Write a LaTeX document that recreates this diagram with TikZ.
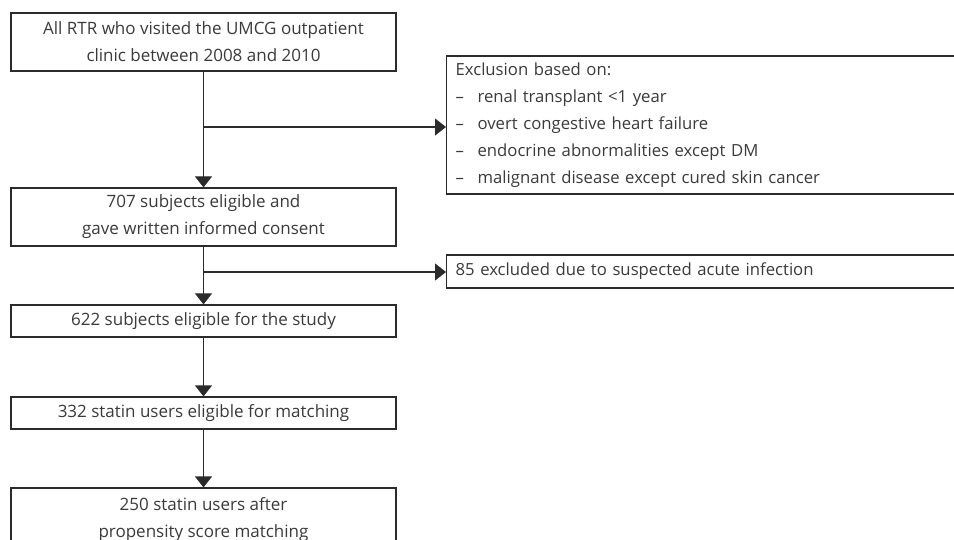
\documentclass[tikz,border=0pt]{standalone}
\usepackage{fontspec}
\setmainfont{Open Sans}
\usetikzlibrary{arrows.meta}
\definecolor{linec}{HTML}{2B2B2B}
\definecolor{textc}{HTML}{3A3A3A}
\begin{document}
\begin{tikzpicture}[x=1pt,y=1pt,
  box/.style={draw=linec, line width=1.2pt, minimum width=385pt, align=center, text=textc,
    font=\fontsize{17}{27}\selectfont, inner sep=0pt},
  sidebox/.style={draw=linec, line width=1.2pt, minimum width=530pt, align=left, text=textc,
    font=\fontsize{16.7}{27}\selectfont, inner xsep=9pt, inner ysep=0pt, text width=512pt, anchor=west},
  arr/.style={draw=linec, line width=1.2pt, -{Triangle[width=17pt,length=11pt]}},
  ln/.style={draw=linec, line width=1.2pt}]
\useasboundingbox (0,0) rectangle (954,-540);
\node[box, minimum height=58pt] (b1) at (203.5,-42) {All RTR who visited the UMCG outpatient\\clinic between 2008 and 2010};
\node[box, minimum height=58pt] (b2) at (203.5,-217) {707 subjects eligible and\\gave written informed consent};
\node[box, minimum height=32pt] (b3) at (203.5,-321) {622 subjects eligible for the study};
\node[box, minimum height=32pt] (b4) at (203.5,-413) {332 statin users eligible for matching};
\node[box, minimum height=64pt] (b5) at (203.5,-520) {250 statin users after\\propensity score matching};
\node[sidebox, minimum height=138pt] (ex1) at (446,-125) {Exclusion based on:\\
\makebox[22pt][l]{--}renal transplant <1 year\\
\makebox[22pt][l]{--}overt congestive heart failure\\
\makebox[22pt][l]{--}endocrine abnormalities except DM\\
\makebox[22pt][l]{--}malignant disease except cured skin cancer};
\node[sidebox, minimum height=33pt] (ex2) at (446,-271.5) {85 excluded due to suspected acute infection};
\coordinate (j1) at (203.5,-127);
\coordinate (j2) at (203.5,-272);
\draw[arr] (b1.south) -- (b2.north);
\draw[arr] (j1) -- (j1 -| ex1.west);
\draw[arr] (b2.south) -- (b3.north);
\draw[arr] (j2) -- (j2 -| ex2.west);
\draw[arr] (b3.south) -- (b4.north);
\draw[arr] (b4.south) -- (b5.north);
\end{tikzpicture}
\end{document}
